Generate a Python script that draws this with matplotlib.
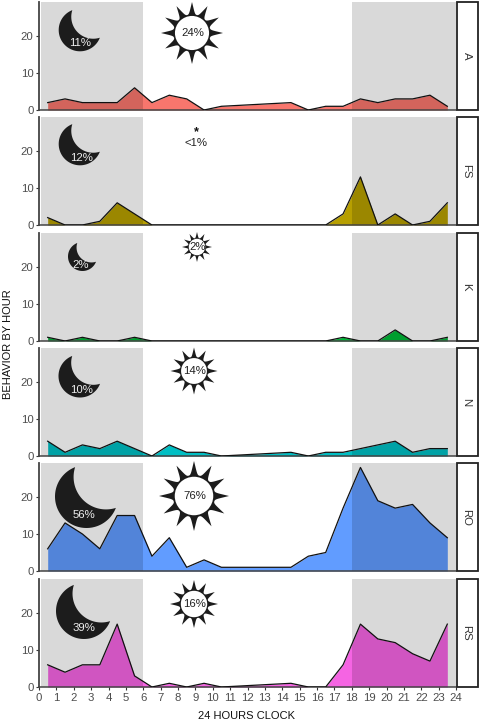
import matplotlib
matplotlib.use('Agg')
import matplotlib.pyplot as plt
from matplotlib.patches import Circle, Polygon, Rectangle
import numpy as np

plt.rcParams['font.family'] = ['Liberation Sans', 'DejaVu Sans']

hours = [0.5, 1.5, 2.5, 3.5, 4.5, 5.5, 6.5, 7.5, 8.5, 9.5, 10.5,
         14.5, 15.5, 16.5, 17.5, 18.5, 19.5, 20.5, 21.5, 22.5, 23.5]

names = ['A', 'FS', 'K', 'N', 'RO', 'RS']
a = [2, 3, 2, 2, 2, 6, 2, 4, 3, 0, 1, 2, 0, 1, 1, 3, 2, 3, 3, 4, 1]
fs = [2, 0, 0, 1, 6, 3, 0, 0, 0, 0, 0, 0, 0, 0, 3, 13, 0, 3, 0, 1, 6]
k = [1, 0, 1, 0, 0, 1, 0, 0, 0, 0, 0, 0, 0, 0, 1, 0, 0, 3, 0, 0, 1]
n = [4, 1, 3, 2, 4, 2, 0, 3, 1, 1, 0, 1, 0, 1, 1, 2, 3, 4, 1, 2, 2]
ro = [6, 13, 10, 6, 15, 15, 4, 9, 1, 3, 1, 1, 4, 5, 17, 28, 19, 17, 18, 13, 9]
rs = [6, 4, 6, 6, 17, 3, 0, 1, 0, 1, 0, 1, 0, 0, 6, 17, 13, 12, 9, 7, 17]
series = [a, fs, k, n, ro, rs]

colors = ['#F8766D', '#B79F00', '#00BA38', '#00BFC4', '#619CFF', '#F564E3']
night_labels = ['11%', '12%', '2%', '10%', '56%', '39%']
day_labels = ['24%', '<1%', '2%', '14%', '76%', '16%']

W, H = 480, 723
left, right = 39, 456
tops = [2, 117, 233, 348, 463, 579]
panel_h = 108
ymax = 29.2

# icons, in pixels: cx, cy, r, text x, text y
moons = [(80, 30, 21.3, 80, 42.5), (80, 144, 21.3, 82, 158), (82.5, 256.5, 14.5, 81, 265),
         (80, 376, 21.5, 82, 390), (86.5, 496.5, 31.5, 84, 515), (84, 611, 28, 84, 628)]
suns = [(192, 33, 31), None, (197, 247, 15), (194, 371, 23.5), (194, 496, 35), (194, 604, 24)]


def moon_outline(cx, cy, r):
    # outer circle with a second circle bitten out of the upper right
    c2 = np.array([0.62, -0.62]) * r
    r2 = 1.03 * r
    d = np.hypot(*c2)
    base = np.arctan2(c2[1], c2[0])
    half = np.arccos((r ** 2 + d ** 2 - r2 ** 2) / (2 * d * r))
    outer = np.linspace(base + half, base + 2 * np.pi - half, 80)
    pts = [(r * np.cos(t), r * np.sin(t)) for t in outer]
    p1 = np.array(pts[-1]) - c2
    p2 = np.array(pts[0]) - c2
    t1 = np.arctan2(p1[1], p1[0])
    t2 = np.arctan2(p2[1], p2[0])
    if t2 > t1:
        t2 -= 2 * np.pi
    inner = np.linspace(t1, t2, 50)
    pts += [(c2[0] + r2 * np.cos(t), c2[1] + r2 * np.sin(t)) for t in inner]
    return [(cx + x, cy + y) for x, y in pts]


def sun_outline(cx, cy, r, spikes=12):
    # concave spikes, radius drops quickly away from each tip
    ang = np.linspace(0, 2 * np.pi, spikes * 24, endpoint=False)
    u = np.abs(((ang * spikes / (2 * np.pi) + 0.5) % 1) - 0.5) * 2
    rad = r * (0.6 + 0.4 * (1 - u) ** 2.6)
    ang = ang - np.pi / 2
    return np.column_stack([cx + rad * np.cos(ang), cy + rad * np.sin(ang)])


fig = plt.figure(figsize=(W / 100, H / 100), dpi=100)
tick_col = '#4D4D4D'

for i, name in enumerate(names):
    ax = fig.add_axes([left / W, 1 - (tops[i] + panel_h) / H, (right - left) / W, panel_h / H])
    ax.fill_between(hours, series[i], 0, color=colors[i], lw=0, zorder=1)
    ax.plot(hours, series[i], color='#111111', lw=0.9, zorder=3)
    ax.axvspan(0.1, 6, color='black', alpha=0.15, lw=0, zorder=2)
    ax.axvspan(18, 24, color='black', alpha=0.15, lw=0, zorder=2)
    ax.set_xlim(0, 24)
    ax.set_ylim(0, ymax)
    ax.set_yticks([0, 10, 20])
    ax.tick_params(axis='y', labelsize=8.2, labelcolor=tick_col, color='#333333', length=2.5, width=0.8, pad=1.5)
    ax.spines['top'].set_visible(False)
    ax.spines['right'].set_visible(False)
    ax.spines['left'].set_color('#444444')
    ax.spines['left'].set_linewidth(1.3)
    ax.spines['bottom'].set_color('#444444')
    ax.spines['bottom'].set_linewidth(1.1)
    if i == len(names) - 1:
        ax.set_xticks(range(25))
        ax.tick_params(axis='x', labelsize=8.2, labelcolor=tick_col, color='#333333', length=2.5, width=0.8, pad=1.5)
    else:
        ax.set_xticks([])

# overlay in pixel coordinates for the strips and icons
ov = fig.add_axes([0, 0, 1, 1], zorder=10)
ov.set_xlim(0, W)
ov.set_ylim(H, 0)
ov.axis('off')

for i, name in enumerate(names):
    ov.add_patch(Rectangle((457, tops[i]), 20.5, panel_h, fc='white', ec='#222222', lw=1.3))
    ov.text(466.5, tops[i] + panel_h / 2, name, rotation=-90, ha='center', va='center',
            fontsize=8.2, color='#333333')

    cx, cy, r, tx, ty = moons[i]
    ov.add_patch(Polygon(moon_outline(cx, cy, r), closed=True, fc='#1C1C1C', ec='none'))
    ov.text(tx, ty, night_labels[i], ha='center', va='center', fontsize=8.2, color='#EEEEEE')

    if suns[i] is None:
        ov.text(196, 132, '*', ha='center', va='center', fontsize=9, fontweight='bold', color='#111111')
        ov.text(196, 143, day_labels[i], ha='center', va='center', fontsize=8.2, color='#222222')
    else:
        cx, cy, r = suns[i]
        ov.add_patch(Polygon(sun_outline(cx, cy, r), closed=True, fc='#1C1C1C', ec='none'))
        ov.add_patch(Circle((cx, cy), r * 0.55, fc='white', ec='none'))
        ov.text(cx + 1, cy, day_labels[i], ha='center', va='center', fontsize=8.2, color='#222222')

ov.text(247, 716, '24 HOURS CLOCK', ha='center', va='center', fontsize=8, color='#111111')
ov.text(8, 344, 'BEHAVIOR BY HOUR', rotation=90, ha='center', va='center', fontsize=8, color='#111111')

fig.savefig('out.png', dpi=100)
